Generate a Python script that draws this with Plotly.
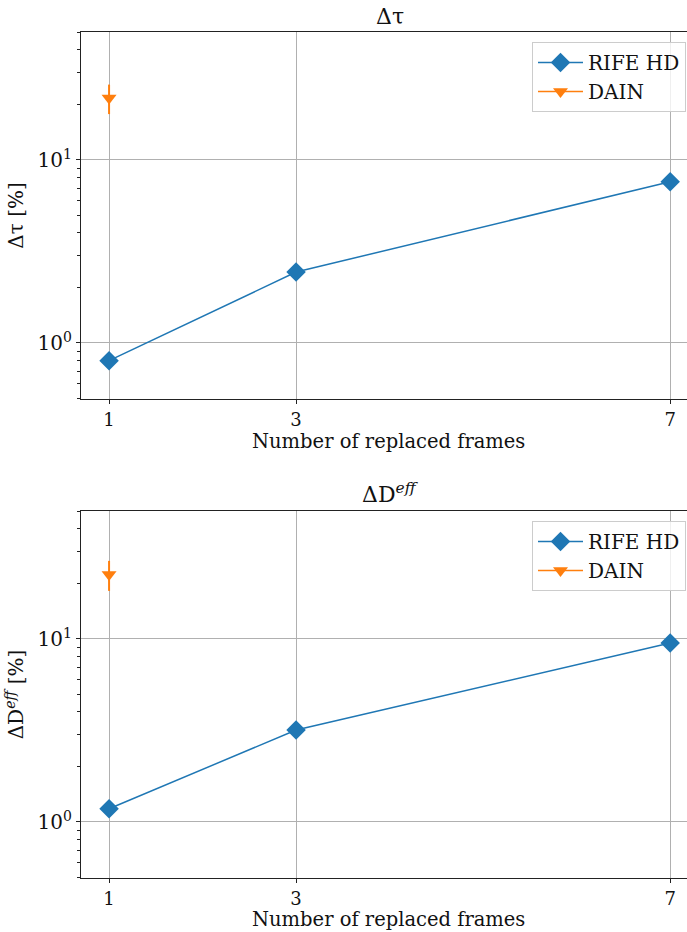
import plotly.graph_objects as go
import math

frames = [1, 3, 7]
rife_tau = [0.80, 2.44, 7.6]
rife_deff = [1.18, 3.18, 9.5]
dain_x = [1]
dain_tau = [21.8]
dain_tau_err = [4.0]
dain_deff = [22.5]
dain_deff_err = [4.2]
xtick_vals = [1, 3, 7]
ytick_vals = [1, 10]
ytick_text = ["10<sup>0</sup>", "10<sup>1</sup>"]
xlabel = "Number of replaced frames"

BLUE = "#1f77b4"
ORANGE = "#ff7f0e"
FONT = "DejaVu Serif"
W, H = 687, 932
FS = 20

fig = go.Figure()

def add_panel(idx, rife, dain, dain_err):
    xa = "x" if idx == 1 else "x2"
    ya = "y" if idx == 1 else "y2"
    lg = "legend" if idx == 1 else "legend2"
    fig.add_trace(go.Scatter(x=frames, y=rife, mode="lines+markers", name="RIFE HD",
                             line=dict(color=BLUE, width=1.5),
                             marker=dict(symbol="diamond", size=15, color=BLUE),
                             xaxis=xa, yaxis=ya, legend=lg))
    fig.add_trace(go.Scatter(x=dain_x, y=dain, mode="lines+markers", name="DAIN",
                             line=dict(color=ORANGE, width=1.5),
                             marker=dict(symbol="triangle-down", size=13, color=ORANGE),
                             error_y=dict(type="data", array=dain_err, color=ORANGE,
                                          thickness=2, width=0),
                             xaxis=xa, yaxis=ya, legend=lg))

add_panel(1, rife_tau, dain_tau, dain_tau_err)
add_panel(2, rife_deff, dain_deff, dain_deff_err)

def px_x(p):
    return p / W

def px_y(p):
    return 1 - p / H

xdom = [px_x(81), px_x(687)]
ydom1 = [px_y(399), px_y(32)]
ydom2 = [px_y(878), px_y(511)]

minor_vals = [0.5, 0.6, 0.7, 0.8, 0.9, 2, 3, 4, 5, 6, 7, 8, 9, 20, 30, 40, 50]

common_x = dict(range=[0.7, 7.18], tickvals=xtick_vals, ticktext=[str(v) for v in xtick_vals],
                showgrid=True, gridcolor="#b0b0b0", gridwidth=1, zeroline=False,
                showline=True, linecolor="#222", linewidth=1.2, mirror=True,
                ticks="outside", ticklen=4, tickcolor="#222",
                tickfont=dict(family=FONT, size=18, color="#111"), domain=xdom)
common_y = dict(type="log", range=[math.log10(0.494), math.log10(50)],
                tickvals=ytick_vals, ticktext=ytick_text,
                showgrid=True, gridcolor="#b0b0b0", gridwidth=1, zeroline=False,
                showline=True, linecolor="#222", linewidth=1.2, mirror=False,
                ticks="outside", ticklen=4, tickcolor="#222",
                minor=dict(tickvals=minor_vals, ticks="outside", ticklen=2.5, tickcolor="#222", showgrid=False),
                tickfont=dict(family=FONT, size=FS, color="#111"))

title_font = dict(family=FONT, size=FS, color="#111")
xtitle_font = dict(family=FONT, size=19.5, color="#111")
legend_common = dict(xanchor="right", yanchor="top", bgcolor="rgba(255,255,255,0.8)",
                     bordercolor="#cccccc", borderwidth=1, itemwidth=45,
                     font=dict(family=FONT, size=FS, color="#111"), tracegroupgap=0)

fig.update_layout(
    width=W, height=H, margin=dict(l=0, r=0, t=0, b=0, autoexpand=False),
    paper_bgcolor="white", plot_bgcolor="white",
    xaxis=dict(**common_x, anchor="y"),
    yaxis=dict(**common_y, domain=ydom1, anchor="x",
               title=dict(text="Δτ [%]", font=title_font, standoff=8)),
    xaxis2=dict(**common_x, anchor="y2"),
    yaxis2=dict(**common_y, domain=ydom2, anchor="x2",
                title=dict(text="ΔD<sup><i>eff</i></sup> [%]", font=title_font, standoff=8)),
    legend=dict(x=px_x(686), y=px_y(42), **legend_common),
    legend2=dict(x=px_x(686), y=px_y(521), **legend_common),
    showlegend=True,
    annotations=[
        dict(text="Δτ", x=px_x(390), y=px_y(17), xref="paper", yref="paper",
             showarrow=False, font=dict(family=FONT, size=22, color="#111"),
             xanchor="center", yanchor="middle"),
        dict(text="ΔD<sup><i>eff</i></sup>", x=px_x(390), y=px_y(493), xref="paper", yref="paper",
             showarrow=False, font=dict(family=FONT, size=22, color="#111"),
             xanchor="center", yanchor="middle"),
        dict(text=xlabel, x=px_x(389), y=px_y(441), xref="paper", yref="paper",
             showarrow=False, font=xtitle_font, xanchor="center", yanchor="middle"),
        dict(text=xlabel, x=px_x(389), y=px_y(919), xref="paper", yref="paper",
             showarrow=False, font=xtitle_font, xanchor="center", yanchor="middle"),
    ],
)

fig.write_html("out.html")
